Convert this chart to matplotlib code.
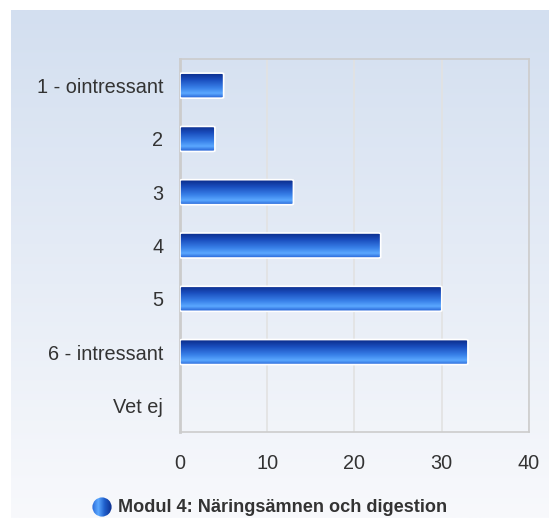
import matplotlib.pyplot as plt
import numpy as np
from matplotlib.colors import LinearSegmentedColormap
from matplotlib.patches import FancyBboxPatch, Circle

plt.rcParams['font.family'] = ['Liberation Sans', 'DejaVu Sans']

categories = ["1 - ointressant", "2", "3", "4", "5", "6 - intressant", "Vet ej"]
values = [5, 4, 13, 23, 30, 33, 0]
x_ticks = [0, 10, 20, 30, 40]
series_name = "Modul 4: Näringsämnen och digestion"

W, H = 549, 518
fig = plt.figure(figsize=(W / 100, H / 100), dpi=100)
fig.patch.set_facecolor("white")

# background panel with vertical gradient
bg = fig.add_axes([11 / W, 0, 1 - 11 / W, 1 - 10 / H], zorder=0)
bg_cmap = LinearSegmentedColormap.from_list("bg", ["#f8f9fc", "#d3dff0"])
bg.imshow(np.linspace(0, 1, 256).reshape(-1, 1), cmap=bg_cmap, aspect="auto",
          origin="lower", extent=(0, 1, 0, 1))
bg.set_axis_off()

ax = fig.add_axes([180 / W, 1 - 432 / H, (529 - 180) / W, (432 - 59) / H], zorder=1)
ax.set_facecolor("none")

y = np.arange(len(categories))
bars = ax.barh(y, values, height=0.47, color="none", edgecolor="none")

# 0 = top of bar, 1 = bottom of bar
bar_cmap = LinearSegmentedColormap.from_list(
    "bar", [(0.0, "#0a2784"), (0.3, "#1a4fbf"), (0.62, "#3a82ea"),
            (0.82, "#5ba8ff"), (1.0, "#2563d6")])
grad = np.linspace(0, 1, 100).reshape(-1, 1)
for b in bars:
    x0, y0, w, h = b.get_x(), b.get_y(), b.get_width(), b.get_height()
    if w <= 0:
        continue
    im = ax.imshow(grad, cmap=bar_cmap, aspect="auto", origin="upper",
                   extent=(x0, x0 + w, y0 + h, y0), zorder=3)
    outline = FancyBboxPatch((x0, y0), w, h, boxstyle="round,pad=0,rounding_size=0.3",
                             mutation_aspect=0.05, facecolor="none",
                             edgecolor="white", linewidth=1.2, zorder=4)
    ax.add_patch(outline)
    im.set_clip_path(outline)

ax.set_xlim(0, 40)
ax.set_ylim(len(categories) - 0.5, -0.5)
ax.set_aspect("auto")
ax.set_xticks(x_ticks)
ax.set_yticks(y)
ax.set_yticklabels(categories)
ax.tick_params(axis="both", length=0, labelsize=14.3, colors="#333333")
ax.tick_params(axis="y", pad=12)
ax.tick_params(axis="x", pad=16)
ax.grid(axis="x", color="#e2e2e2", linewidth=1.2, zorder=0)
ax.set_axisbelow(True)
for side, sp in ax.spines.items():
    sp.set_color("#cccccc")
    sp.set_linewidth(1.2)
ax.spines["left"].set_linewidth(2)

# legend
cx, cy, r = 102, 507, 10
leg = fig.add_axes([(cx - r) / W, 1 - (cy + r) / H, 2 * r / W, 2 * r / H], zorder=2)
leg_cmap = LinearSegmentedColormap.from_list(
    "leg", [(0.0, "#2a6ad8"), (0.3, "#5ba8ff"), (0.6, "#1f5fcc"), (1.0, "#0a2784")])
limg = leg.imshow(np.linspace(0, 1, 100).reshape(1, -1), cmap=leg_cmap,
                  aspect="auto", extent=(0, 1, 0, 1))
circ = Circle((0.5, 0.5), 0.48, transform=leg.transData, facecolor="none", edgecolor="none")
leg.add_patch(circ)
limg.set_clip_path(circ)
leg.set_xlim(0, 1)
leg.set_ylim(0, 1)
leg.set_axis_off()
fig.text(118 / W, 1 - cy / H, series_name, fontsize=13.1, fontweight="bold",
         color="#333333", va="center", ha="left")

fig.savefig("out.png", dpi=100)
